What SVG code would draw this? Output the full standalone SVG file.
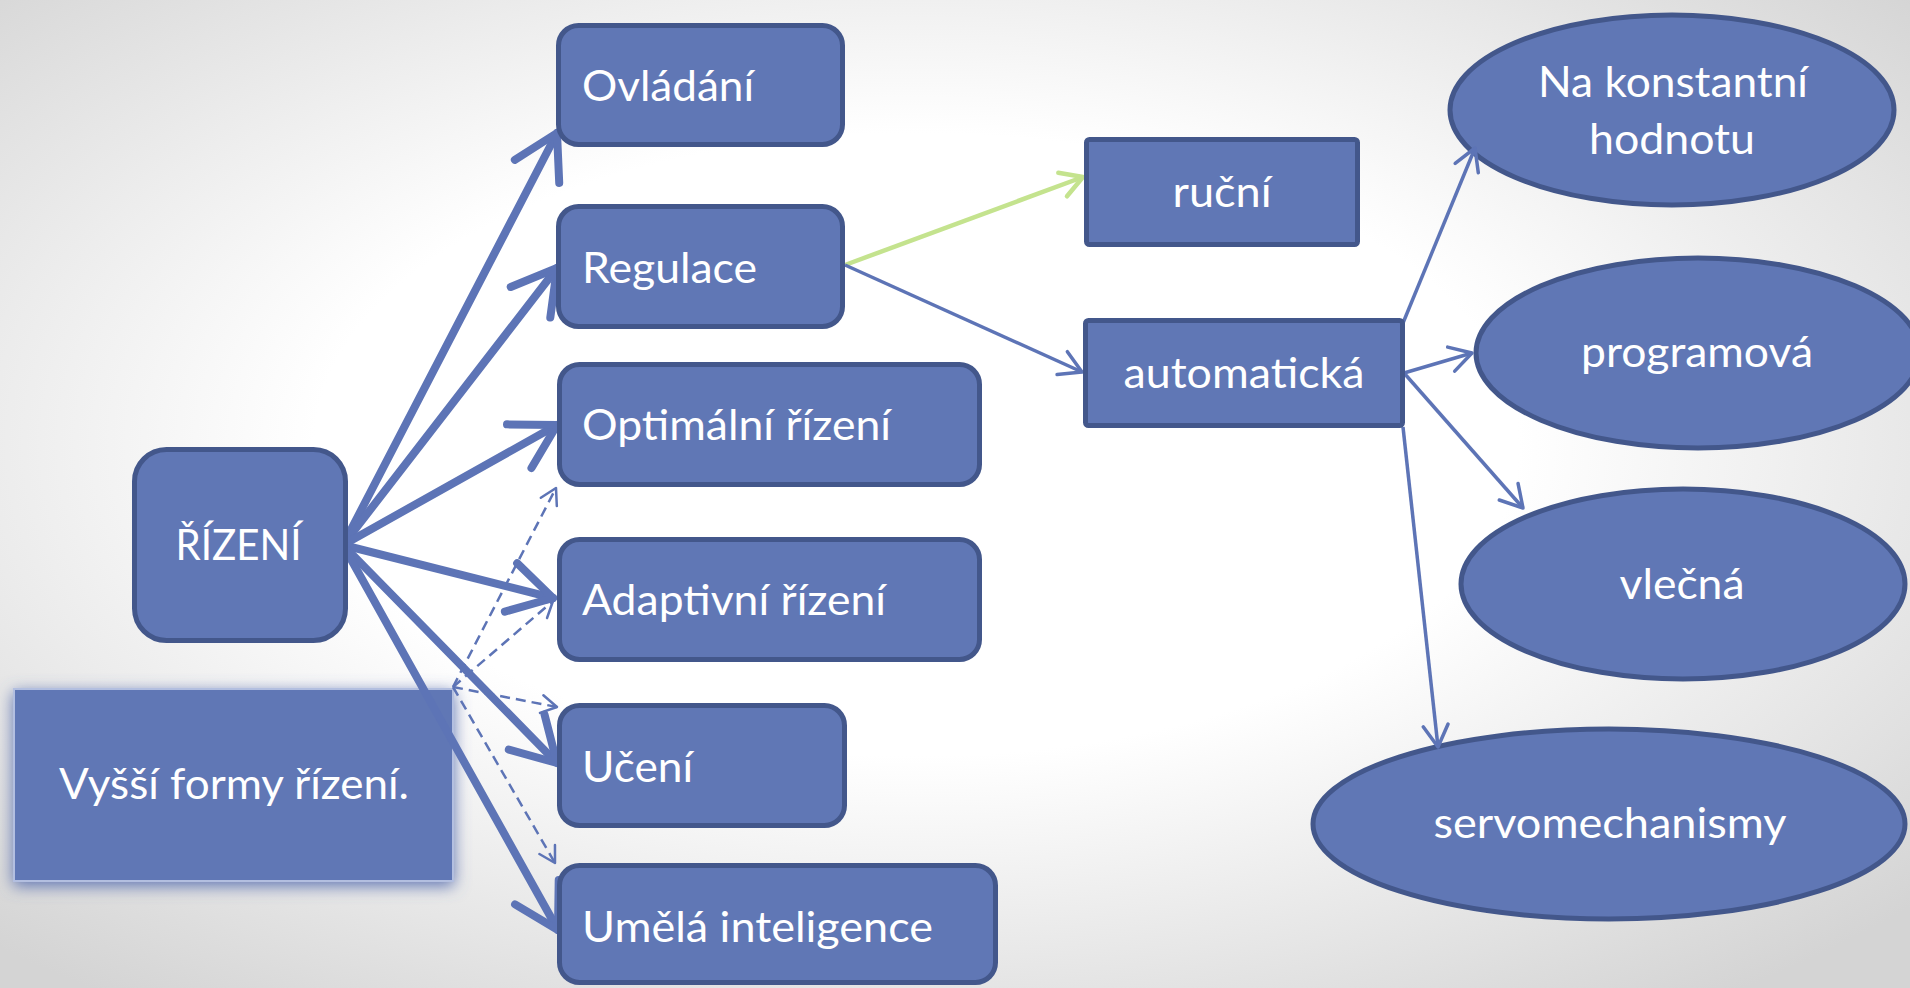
<svg xmlns="http://www.w3.org/2000/svg" width="1910" height="988" viewBox="0 0 1910 988">
  <defs>
    <radialGradient id="bg" cx="48%" cy="45%" r="70%">
      <stop offset="0.45" stop-color="#ffffff"/>
      <stop offset="1" stop-color="#d4d4d4"/>
    </radialGradient>
    <filter id="glow" x="-10%" y="-25%" width="120%" height="150%">
      <feGaussianBlur in="SourceAlpha" stdDeviation="8" result="b"/>
      <feOffset in="b" dy="4" result="o"/>
      <feFlood flood-color="#5a70b0" flood-opacity="0.95"/>
      <feComposite in2="o" operator="in" result="g"/>
      <feMerge>
        <feMergeNode in="g"/>
        <feMergeNode in="SourceGraphic"/>
      </feMerge>
    </filter>
    <marker id="headThick" markerUnits="userSpaceOnUse" orient="auto" refX="0" refY="0" markerWidth="60" markerHeight="60" overflow="visible">
      <path d="M -43.3,-25 L 0,0 L -43.3,25" fill="none" stroke="#5d74b6" stroke-width="8" stroke-linecap="round" stroke-linejoin="round"/>
    </marker>
    <marker id="headThin" markerUnits="userSpaceOnUse" orient="auto" refX="0" refY="0" markerWidth="30" markerHeight="30" overflow="visible">
      <path d="M -21.7,-12.5 L 0,0 L -21.7,12.5" fill="none" stroke="#5d74b6" stroke-width="3.5" stroke-linecap="round" stroke-linejoin="round"/>
    </marker>
    <marker id="headGreen" markerUnits="userSpaceOnUse" orient="auto" refX="0" refY="0" markerWidth="30" markerHeight="30" overflow="visible">
      <path d="M -21.7,-12.5 L 0,0 L -21.7,12.5" fill="none" stroke="#c4e38e" stroke-width="4.5" stroke-linecap="round" stroke-linejoin="round"/>
    </marker>
    <marker id="headDash" markerUnits="userSpaceOnUse" orient="auto" refX="0" refY="0" markerWidth="24" markerHeight="24" overflow="visible">
      <path d="M -15.6,-9 L 0,0 L -15.6,9" fill="none" stroke="#5d74b6" stroke-width="2.5" stroke-linecap="round" stroke-linejoin="round"/>
    </marker>
  </defs>
  <style>
    .box { fill: #6077b5; stroke: #43578b; stroke-width: 5; }
    .soft { fill: #6077b5; stroke: #b3bfe0; stroke-width: 2; }
    .lbl { font-family: Lato, "Open Sans", "DejaVu Sans", sans-serif; font-size: 42px; fill: #ffffff; }
    .mid { text-anchor: middle; }
    .thick { fill: none; stroke: #5d74b6; stroke-width: 8; stroke-linecap: round; marker-end: url(#headThick); }
    .thin { fill: none; stroke: #5d74b6; stroke-width: 3.5; marker-end: url(#headThin); }
    .green { fill: none; stroke: #c4e38e; stroke-width: 4.5; marker-end: url(#headGreen); }
    .dash { fill: none; stroke: #5d74b6; stroke-width: 2.5; stroke-dasharray: 10 6; marker-end: url(#headDash); }
  </style>

  <rect x="0" y="0" width="1910" height="988" fill="url(#bg)"/>

  <!-- secondary regulation nodes -->
  <g id="n-konst">
    <ellipse class="box" cx="1672" cy="110" rx="222" ry="95"/>
    <text class="lbl mid" x="1673" y="97" textLength="270" lengthAdjust="spacingAndGlyphs">Na konstantní</text>
    <text class="lbl mid" x="1672" y="154" textLength="166" lengthAdjust="spacingAndGlyphs">hodnotu</text>
  </g>
  <g id="n-program">
    <ellipse class="box" cx="1698" cy="353" rx="222" ry="95"/>
    <text class="lbl mid" x="1697" y="367" textLength="232" lengthAdjust="spacingAndGlyphs">programová</text>
  </g>
  <g id="n-vlecna">
    <ellipse class="box" cx="1683" cy="584" rx="222" ry="95"/>
    <text class="lbl mid" x="1682" y="599" textLength="125" lengthAdjust="spacingAndGlyphs">vlečná</text>
  </g>
  <g id="n-servo">
    <ellipse class="box" cx="1609" cy="824" rx="296" ry="95"/>
    <text class="lbl mid" x="1610" y="838" textLength="353" lengthAdjust="spacingAndGlyphs">servomechanismy</text>
  </g>

  <!-- higher forms box with soft glow -->
  <g id="n-vyssi">
    <rect class="soft" x="14" y="689" width="439" height="192" filter="url(#glow)"/>
    <text class="lbl mid" x="234" y="799" textLength="350" lengthAdjust="spacingAndGlyphs">Vyšší formy řízení.</text>
  </g>

  <!-- connectors -->
  <g id="connectors">
    <line class="dash" x1="453" y1="687" x2="556" y2="488"/>
    <line class="dash" x1="453" y1="687" x2="553" y2="601"/>
    <line class="dash" x1="453" y1="687" x2="557" y2="707"/>
    <line class="dash" x1="453" y1="687" x2="555" y2="863"/>

    <line class="thick" x1="343" y1="545" x2="557" y2="133"/>
    <line class="thick" x1="343" y1="545" x2="557" y2="268"/>
    <line class="thick" x1="343" y1="545" x2="557" y2="425"/>
    <line class="thick" x1="343" y1="545" x2="553" y2="598"/>
    <line class="thick" x1="343" y1="545" x2="557" y2="763"/>
    <line class="thick" x1="343" y1="545" x2="558" y2="930"/>

    <line class="green" x1="845" y1="265" x2="1083" y2="177"/>
    <line class="thin" x1="845" y1="265" x2="1082" y2="372"/>

    <line class="thin" x1="1403" y1="323" x2="1475" y2="148"/>
    <line class="thin" x1="1404" y1="373" x2="1472" y2="353"/>
    <line class="thin" x1="1404" y1="373" x2="1523" y2="508"/>
    <line class="thin" x1="1403" y1="427" x2="1438" y2="747"/>
  </g>

  <!-- main nodes -->
  <g id="n-rizeni">
    <rect class="box" x="134.5" y="449.5" width="211" height="191" rx="32"/>
    <text class="lbl mid" x="238.5" y="560" textLength="126" lengthAdjust="spacingAndGlyphs">ŘÍZENÍ</text>
  </g>
  <g id="n-ovladani">
    <rect class="box" x="558.5" y="25.5" width="284" height="119" rx="20"/>
    <text class="lbl" x="582" y="101" textLength="172" lengthAdjust="spacingAndGlyphs">Ovládání</text>
  </g>
  <g id="n-regulace">
    <rect class="box" x="558.5" y="206.5" width="284" height="120" rx="20"/>
    <text class="lbl" x="582" y="283" textLength="175" lengthAdjust="spacingAndGlyphs">Regulace</text>
  </g>
  <g id="n-optimalni">
    <rect class="box" x="559.5" y="364.5" width="420" height="120" rx="20"/>
    <text class="lbl" x="582" y="440" textLength="309" lengthAdjust="spacingAndGlyphs">Optimální řízení</text>
  </g>
  <g id="n-adaptivni">
    <rect class="box" x="559.5" y="539.5" width="420" height="120" rx="20"/>
    <text class="lbl" x="582" y="615" textLength="304" lengthAdjust="spacingAndGlyphs">Adaptivní řízení</text>
  </g>
  <g id="n-uceni">
    <rect class="box" x="559.5" y="705.5" width="285" height="120" rx="20"/>
    <text class="lbl" x="582" y="782" textLength="111" lengthAdjust="spacingAndGlyphs">Učení</text>
  </g>
  <g id="n-ai">
    <rect class="box" x="559.5" y="865.5" width="436" height="117" rx="20"/>
    <text class="lbl" x="582" y="942" textLength="351" lengthAdjust="spacingAndGlyphs">Umělá inteligence</text>
  </g>
  <g id="n-rucni">
    <rect class="box" x="1086.5" y="139.5" width="271" height="105" rx="3"/>
    <text class="lbl mid" x="1222" y="207" textLength="99" lengthAdjust="spacingAndGlyphs">ruční</text>
  </g>
  <g id="n-automaticka">
    <rect class="box" x="1085.5" y="320.5" width="317" height="105" rx="3"/>
    <text class="lbl mid" x="1244" y="388" textLength="241" lengthAdjust="spacingAndGlyphs">automatická</text>
  </g>
</svg>
